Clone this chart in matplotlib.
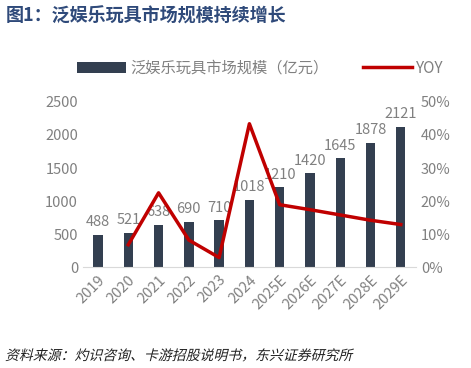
import matplotlib
matplotlib.use("Agg")
import matplotlib.pyplot as plt
from matplotlib.textpath import TextPath
from matplotlib.patches import PathPatch
from matplotlib.font_manager import FontProperties
from matplotlib.transforms import Affine2D, IdentityTransform

plt.rcParams['font.family'] = ['Noto Sans CJK SC', 'DejaVu Sans']

# data
years = ['2019', '2020', '2021', '2022', '2023', '2024',
         '2025E', '2026E', '2027E', '2028E', '2029E']
market_size = [488, 521, 638, 690, 710, 1018, 1210, 1420, 1645, 1878, 2121]
yoy = [None, 6.8, 22.5, 8.2, 2.9, 43.4, 18.9, 17.4, 15.8, 14.2, 12.9]

bar_color = '#333F50'
line_color = '#C00000'
grey = '#808080'

DPI = 100
fig = plt.figure(figsize=(4.71, 3.68), dpi=DPI)
ax = fig.add_axes([0.176, 0.274, 0.707, 0.449])
ax2 = ax.twinx()

x = list(range(len(years)))
bars = ax.bar(x, market_size, width=0.31, color=bar_color, zorder=2,
              label='泛娱乐玩具市场规模（亿元）')
for xi, v in zip(x, market_size):
    ax.annotate(str(v), (xi, v), xytext=(0, 4), textcoords='offset points',
                ha='center', va='bottom', fontsize=10.5, color=grey)

yx = [i for i, v in zip(x, yoy) if v is not None]
yv = [v for v in yoy if v is not None]
line, = ax2.plot(yx, yv, color=line_color, lw=2.5, label='YOY', zorder=3)

ax.set_xlim(-0.5, len(years) - 0.5)
ax.set_ylim(0, 2500)
ax.set_yticks(range(0, 2501, 500))
ax2.set_ylim(0, 50)
ax2.set_yticks(range(0, 51, 10))
ax2.set_yticklabels([f'{v}%' for v in range(0, 51, 10)])

ax.set_xticks(x)
ax.set_xticklabels(years, rotation=45, ha='right', rotation_mode='anchor')

for a in (ax, ax2):
    for s in a.spines.values():
        s.set_visible(False)
    a.tick_params(length=0, labelsize=10.5, colors=grey)
ax.spines['bottom'].set_visible(True)
ax.spines['bottom'].set_color('#D9D9D9')
ax.tick_params(axis='x', pad=4)

fig.text(0.012, 0.955, '图1：泛娱乐玩具市场规模持续增长', fontsize=13,
         fontweight='bold', color='#2F4A7A', va='center')

fig.legend(handles=[bars, line], loc='center', bbox_to_anchor=(0.553, 0.815),
           ncol=2, frameon=False, fontsize=11, labelcolor=grey,
           handlelength=3.2, columnspacing=2.2, handletextpad=0.3)

# source note, slanted like the original (CJK fonts have no italic face)
src = '资料来源：灼识咨询、卡游招股说明书，东兴证券研究所'
tp = TextPath((0, 0), src, size=10, prop=FontProperties(family='Noto Sans CJK SC'))
tr = (Affine2D().skew_deg(14, 0).scale(DPI / 72.0)
      .translate(5, fig.bbox.height - 360) + IdentityTransform())
fig.add_artist(PathPatch(tp, transform=tr, color='#222222', lw=0))

fig.savefig('out.png', dpi=DPI)
